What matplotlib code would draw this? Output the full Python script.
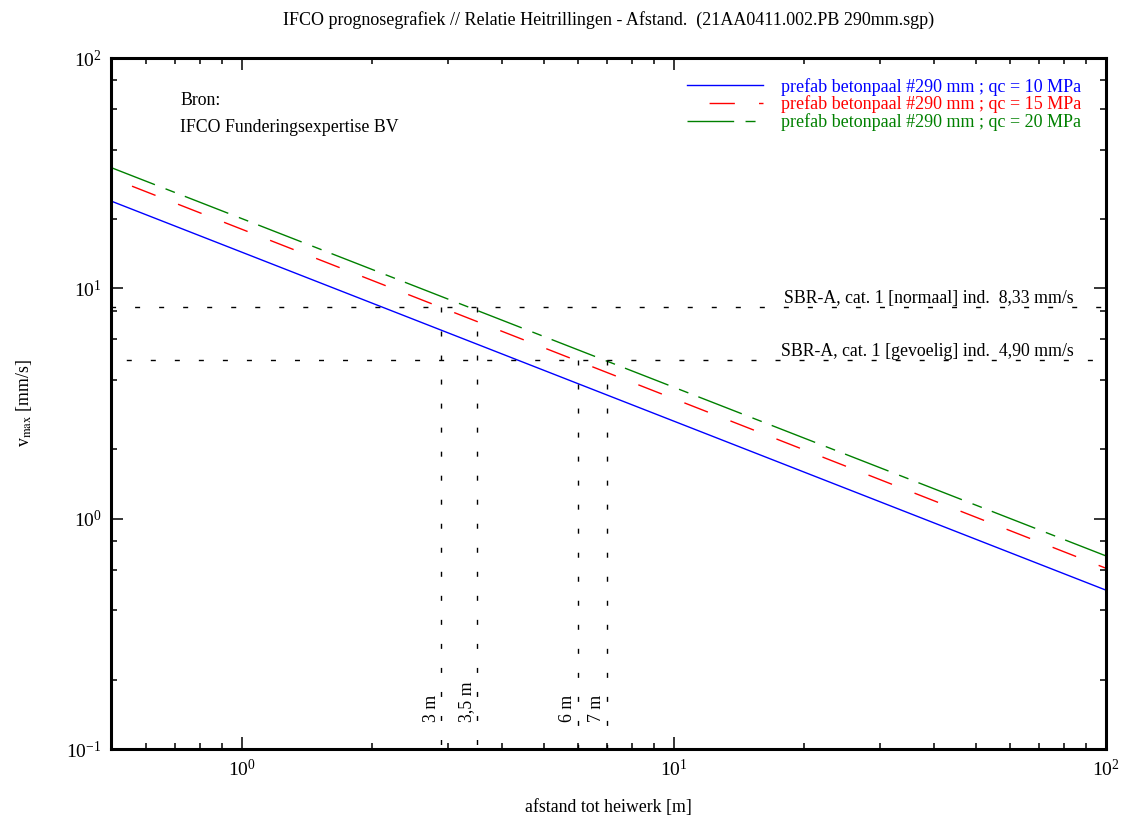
import numpy as np
import matplotlib
matplotlib.use('Agg')
import matplotlib.pyplot as plt
from matplotlib.ticker import LogLocator, NullFormatter

plt.rcParams['font.family'] = ['Liberation Serif', 'DejaVu Serif']
plt.rcParams['mathtext.fontset'] = 'stix'

# data (log-log straight lines, endpoints)
afstand = [0.5, 100]
v_qc10 = [23.9, 0.49]
v_qc15 = [30.1, 0.61]
v_qc20 = [33.4, 0.69]
labels = ['prefab betonpaal #290 mm ; qc = 10 MPa',
          'prefab betonpaal #290 mm ; qc = 15 MPa',
          'prefab betonpaal #290 mm ; qc = 20 MPa']

grens_waarden = [8.33, 4.90]
grens_labels = ['SBR-A, cat. 1 [normaal] ind.  8,33 mm/s',
                'SBR-A, cat. 1 [gevoelig] ind.  4,90 mm/s']

afstand_markers = [2.9, 3.5, 6.0, 7.0]
marker_top = [8.33, 8.33, 4.90, 4.90]
marker_labels = ['3 m', '3,5 m', '6 m', '7 m']

fig = plt.figure(figsize=(11.28, 8.16), dpi=100)
ax = fig.add_axes([0.0988, 0.0821, 0.8814, 0.8468])

ax.plot(afstand, v_qc10, color='blue', lw=1.0, label=labels[0])
ax.plot(afstand, v_qc15, color='red', lw=1.0, label=labels[1],
        linestyle=(19.7, (18.2, 17.4)))
ax.plot(afstand, v_qc20, color='green', lw=1.0, label=labels[2],
        linestyle=(0, (33.6, 8.2, 7.2, 7.7)))

# grenswaarden (horizontale stippellijnen)
offsets = [0.3, 6.3]
for val, txt, off in zip(grens_waarden, grens_labels, offsets):
    ax.plot(afstand, [val, val], color='black', lw=1.0,
            linestyle=(off, (3.6, 13.7)))
    ax.annotate(txt, xy=(0.968, val), xycoords=('axes fraction', 'data'),
                xytext=(0, 2.5), textcoords='offset points',
                ha='right', va='baseline', fontsize=12.8)

# verticale afstandslijnen
for xm, top, txt in zip(afstand_markers, marker_top, marker_labels):
    ax.plot([xm, xm], [top, 0.1], color='black', lw=1.0,
            linestyle=(0, (3.6, 13.7)))
    ax.text(xm * 0.992, 0.131, txt, rotation=90, ha='right', va='bottom',
            fontsize=12.8)

ax.text(0.069, 0.939, 'Bron:', transform=ax.transAxes, va='center', fontsize=12.8)
ax.text(0.069, 0.899, 'IFCO Funderingsexpertise BV', transform=ax.transAxes,
        va='center', fontsize=12.8)

ax.set_xscale('log')
ax.set_yscale('log')
ax.set_xlim(0.5, 100)
ax.set_ylim(0.1, 100)

ax.xaxis.set_major_locator(LogLocator(base=10, numticks=10))
ax.xaxis.set_minor_locator(LogLocator(base=10, subs=np.arange(2, 10), numticks=20))
ax.yaxis.set_major_locator(LogLocator(base=10, numticks=10))
ax.yaxis.set_minor_locator(LogLocator(base=10, subs=(2, 4, 6, 8), numticks=20))
ax.xaxis.set_minor_formatter(NullFormatter())
ax.yaxis.set_minor_formatter(NullFormatter())

ax.tick_params(which='both', direction='in', top=True, right=True,
               labelsize=14, width=1.1)
ax.tick_params(which='major', length=8.6, pad=7)
ax.tick_params(which='minor', length=4.3)
for sp in ax.spines.values():
    sp.set_linewidth(2.2)

ax.set_xlabel('afstand tot heiwerk [m]', fontsize=12.8, labelpad=14)
ax.set_ylabel(r'v$_{\mathrm{max}}$ [mm/s]', fontsize=12.8, labelpad=23)
ax.set_title('IFCO prognosegrafiek // Relatie Heitrillingen - Afstand.  (21AA0411.002.PB 290mm.sgp)',
             fontsize=13.0, pad=24)

ax.legend(loc='upper right', bbox_to_anchor=(0.992, 0.995), frameon=False,
          fontsize=13, handlelength=4.2, handletextpad=1.0, labelspacing=0.0,
          labelcolor='linecolor')

fig.savefig('out.png', dpi=100)
